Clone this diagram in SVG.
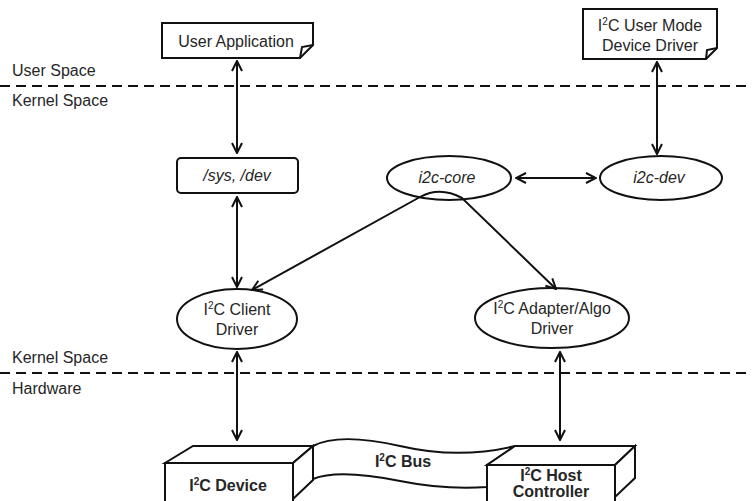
<svg xmlns="http://www.w3.org/2000/svg" width="752" height="501" viewBox="0 0 752 501">
<style>
text{font-family:"Liberation Sans",Arial,sans-serif;font-size:16px;fill:#262626;}
.it{font-style:italic;}
.b{font-weight:bold;}
.shape{fill:#fff;stroke:#111;stroke-width:2;}
.line{fill:none;stroke:#111;stroke-width:2;}
.dash{fill:none;stroke:#111;stroke-width:2;stroke-dasharray:10 6;}
.sup{font-size:10px;}
</style>
<defs>
<marker id="ah" viewBox="0 0 12 12" refX="11" refY="6" markerWidth="12" markerHeight="12" markerUnits="userSpaceOnUse" orient="auto-start-reverse">
<path d="M1,1 L11,6 L1,11" fill="none" stroke="#111" stroke-width="2"/>
</marker>
</defs>
<g id="labels">
<text x="12" y="76">User Space</text>
<text x="12" y="106">Kernel Space</text>
<text x="12" y="363">Kernel Space</text>
<text x="12" y="394">Hardware</text>
<line class="dash" x1="0" y1="86" x2="752" y2="86"/>
<line class="dash" x1="0" y1="373" x2="752" y2="373"/>
</g>
<g id="user-application">
<path class="shape" d="M162,23 H313 V45 L300,58 H162 Z"/>
<path class="line" d="M300,58 L302,47 L313,45" stroke-width="1.5"/>
<text x="236" y="47" text-anchor="middle">User Application</text>
</g>
<g id="user-mode-driver">
<path class="shape" d="M583,9 H717 V48 L706,59 H583 Z"/>
<path class="line" d="M706,59 L707,50 L717,48" stroke-width="1.5"/>
<text x="650" y="31" text-anchor="middle">I<tspan class="sup" dy="-6">2</tspan><tspan dy="6">C User Mode</tspan></text>
<text x="650" y="51" text-anchor="middle">Device Driver</text>
</g>
<g id="sys-dev">
<rect class="shape" x="177" y="158" width="121" height="35" rx="4"/>
<text class="it" x="237" y="181" text-anchor="middle">/sys, /dev</text>
</g>
<g id="i2c-core">
<ellipse class="shape" cx="449" cy="178" rx="62" ry="22"/>
<text class="it" x="447" y="183" text-anchor="middle">i2c-core</text>
</g>
<g id="i2c-dev">
<ellipse class="shape" cx="661" cy="178" rx="61" ry="22"/>
<text class="it" x="659" y="183" text-anchor="middle">i2c-dev</text>
</g>
<g id="client-driver">
<ellipse class="shape" cx="237" cy="319" rx="60" ry="30"/>
<text x="237" y="315" text-anchor="middle">I<tspan class="sup" dy="-6">2</tspan><tspan dy="6">C Client</tspan></text>
<text x="237" y="335" text-anchor="middle">Driver</text>
</g>
<g id="adapter-driver">
<ellipse class="shape" cx="552" cy="318" rx="77" ry="30"/>
<text x="552" y="314" text-anchor="middle">I<tspan class="sup" dy="-6">2</tspan><tspan dy="6">C Adapter/Algo</tspan></text>
<text x="552" y="334" text-anchor="middle">Driver</text>
</g>
<g id="i2c-bus">
<path class="shape" d="M313,446 C330,437 360,437 400,446 C430,453 470,457 515,446 L487,465 V487 C460,489 430,487 400,481 C360,473 330,472 313,479 Z"/>
<text class="b" x="403" y="467" text-anchor="middle">I<tspan class="sup" dy="-6">2</tspan><tspan dy="6">C Bus</tspan></text>
</g>
<g id="i2c-device">
<polygon class="shape" points="165,463 193,446 313,446 293,463"/>
<polygon class="shape" points="293,463 313,446 313,480 293,499"/>
<rect class="shape" x="165" y="463" width="128" height="42"/>
<text class="b" x="228" y="491" text-anchor="middle">I<tspan class="sup" dy="-6">2</tspan><tspan dy="6">C Device</tspan></text>
</g>
<g id="host-controller">
<polygon class="shape" points="487,465 515,446 635,446 615,465"/>
<polygon class="shape" points="615,465 635,446 635,478 615,497"/>
<rect class="shape" x="487" y="465" width="128" height="40"/>
<text class="b" x="551" y="481" text-anchor="middle">I<tspan class="sup" dy="-6">2</tspan><tspan dy="6">C Host</tspan></text>
<text class="b" x="551" y="497" text-anchor="middle">Controller</text>
</g>
<g id="connectors">
<line class="line" x1="237" y1="61" x2="237" y2="153" marker-start="url(#ah)" marker-end="url(#ah)"/>
<line class="line" x1="657" y1="62" x2="657" y2="154" marker-start="url(#ah)" marker-end="url(#ah)"/>
<line class="line" x1="237" y1="197" x2="237" y2="287" marker-start="url(#ah)" marker-end="url(#ah)"/>
<line class="line" x1="516" y1="178" x2="596" y2="178" marker-start="url(#ah)" marker-end="url(#ah)"/>
<path class="line" d="M252,290 L420,197 Q440,186 462,198 L556,289" marker-start="url(#ah)" marker-end="url(#ah)"/>
<line class="line" x1="237" y1="352" x2="237" y2="440" marker-start="url(#ah)" marker-end="url(#ah)"/>
<line class="line" x1="560" y1="352" x2="560" y2="440" marker-start="url(#ah)" marker-end="url(#ah)"/>
</g>
</svg>
